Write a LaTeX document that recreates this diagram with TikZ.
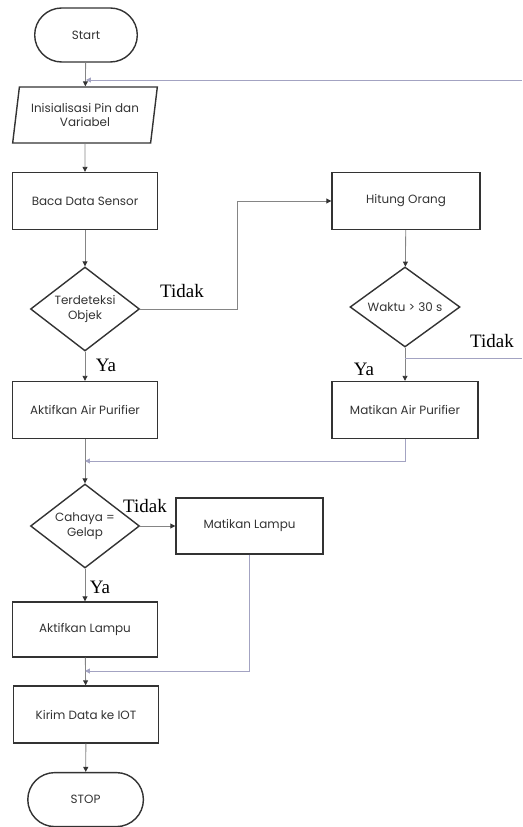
\documentclass[tikz,border=0pt]{standalone}
\usepackage{fontspec}
\setmainfont{Liberation Serif}
\newfontfamily\boxfont{Poppins}
\usetikzlibrary{positioning, calc, arrows.meta, shapes.geometric, shapes.misc}

\definecolor{boxline}{HTML}{333333}
\definecolor{flowline}{HTML}{858585}
\definecolor{loopline}{HTML}{A3A3C2}

\begin{document}
\begin{tikzpicture}[
        block/.style={
            rectangle,
            draw=boxline,
            line width=1pt,
            minimum width=3.625cm,
            minimum height=1.425cm,
            font=\boxfont\fontsize{8.5}{10.5}\selectfont,
            text=boxline,
            align=center
        },
        terminal/.style={
            block,
            rounded rectangle,
            minimum width=2.8cm,
            minimum height=1.35cm
        },
        io/.style={
            block,
            trapezium,
            trapezium left angle=77,
            trapezium right angle=103,
            trapezium stretches=true,
            minimum width=3.625cm,
            minimum height=1.4cm,
            inner sep=0pt
        },
        decision/.style={
            block,
            diamond,
            aspect=1.28,
            inner sep=0pt,
            minimum width=2.725cm,
            minimum height=2.1cm
        },
        flow/.style={
            draw=flowline,
            line width=0.6pt,
            -{Triangle[length=3.5pt,width=3.5pt,color=boxline]}
        },
        back/.style={
            draw=loopline,
            line width=0.7pt
        },
        lbl/.style={
            font=\fontsize{13.5}{15}\selectfont,
            inner sep=0pt
        }
    ]

        % Frame
        \useasboundingbox (0,0) rectangle (13.05,-20.675);

        % Left column
        \node[terminal] (start) at (2.15, -0.875) {Start};
        \node[io] (init) at (2.125, -2.875) {Inisialisasi Pin dan\\Variabel};
        \node[block] (baca) at (2.125, -5.025) {Baca Data Sensor};
        \node[decision] (objek) at (2.125, -7.725) {Terdeteksi\\Objek};
        \node[block] (airon) at (2.125, -10.25) {Aktifkan Air Purifier};
        \node[decision] (cahaya) at (2.125, -13.15) {Cahaya =\\Gelap};
        \node[block, minimum height=1.375cm] (lampuon) at (2.125, -15.7375) {Aktifkan Lampu};
        \node[block] (kirim) at (2.15, -17.8625) {Kirim Data ke IOT};
        \node[terminal, minimum width=3.125cm] (stop) at (2.14, -19.99) {STOP};

        % Right column
        \node[block, minimum width=3.7cm] (hitung) at (10.15, -5.025) {Hitung Orang};
        \node[decision, minimum width=2.75cm, minimum height=2cm] (waktu) at (10.125, -7.675) {Waktu > 30 s};
        \node[block, minimum width=3.65cm] (airoff) at (10.125, -10.25) {Matikan Air Purifier};
        \node[block, minimum width=3.675cm, minimum height=1.4cm] (lampuoff) at (6.2375, -13.15) {Matikan Lampu};

        % Junction points
        \coordinate (top) at (2.15, -2.0);
        \coordinate (edgetop) at (13.05, -2.0);
        \coordinate (split) at (10.125, -8.95);
        \coordinate (edgelow) at (13.05, -8.95);
        \coordinate (merge1) at (2.125, -11.525);
        \coordinate (merge2) at (2.125, -16.775);

        % Main flow
        \draw[flow] (start) -- (init);
        \draw[flow] (init) -- (baca);
        \draw[flow] (baca) -- (objek);
        \draw[flow] (objek) -- (airon);
        \draw[flow] (airon) -- (cahaya);
        \draw[flow] (cahaya) -- (lampuon);
        \draw[flow] (lampuon) -- (kirim);
        \draw[flow] (kirim) -- (stop);

        % Branches
        \draw[flow] (objek.east) -- ++(2.425, 0) |- (hitung.west);
        \draw[flow] (hitung) -- (waktu);
        \draw[flow] (waktu) -- (airoff);
        \draw[flow] (cahaya.east) -- (lampuoff.west);

        % Returns
        \draw[back] (split) -- (edgelow);
        \draw[back, -{Triangle[length=3.5pt,width=3.5pt]}] (edgetop) -- (top);
        \draw[back, -{Triangle[length=3.5pt,width=3.5pt]}] (airoff.south) |- (merge1);
        \draw[back, -{Triangle[length=3.5pt,width=3.5pt]}] (lampuoff.south) |- (merge2);

        % Labels
        \node[lbl] (t1) at (4.55, -7.275) {Tidak};
        \node[lbl] (y1) at (2.65, -9.125) {Ya};
        \node[lbl] (t2) at (12.3, -8.525) {Tidak};
        \node[lbl] (y2) at (9.1, -9.225) {Ya};
        \node[lbl] (t3) at (3.625, -12.65) {Tidak};
        \node[lbl] (y3) at (2.5, -14.675) {Ya};

\end{tikzpicture}
\end{document}
